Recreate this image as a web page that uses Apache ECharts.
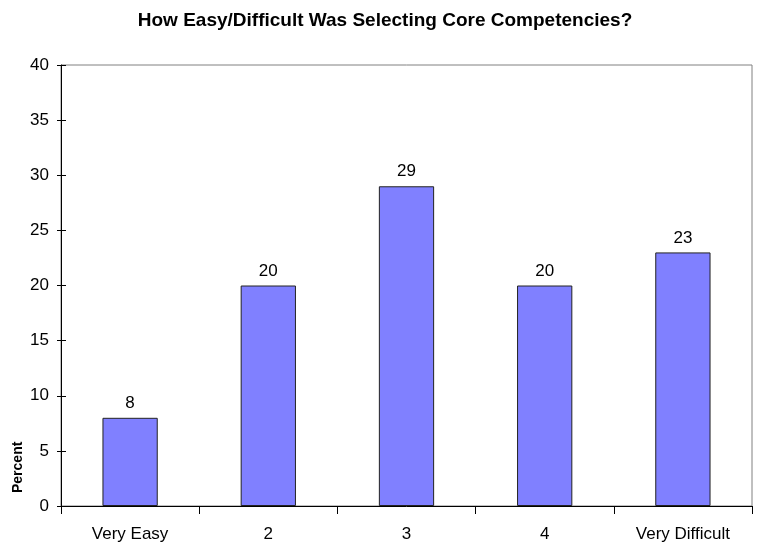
<!DOCTYPE html>
<html>
<head>
<meta charset="utf-8">
<script src="https://cdn.jsdelivr.net/npm/echarts@6/dist/echarts.min.js"></script>
<style>
  html, body { margin: 0; padding: 0; background: #fff; }
  #chart { width: 757px; height: 544px; }
</style>
</head>
<body>
<div id="chart"></div>
<script>
const categories = ['Very Easy', '2', '3', '4', 'Very Difficult']
const percentValues = [8, 20, 29, 20, 23]
const font = 'Arial, "Liberation Sans", sans-serif'

const chart = echarts.init(document.getElementById('chart'))

const option = {
  backgroundColor: '#fff',
  animation: false,
  title: {
    text: 'How Easy/Difficult Was Selecting Core Competencies?',
    left: 380,
    top: 6,
    textAlign: 'center',
    textStyle: { fontFamily: font, fontSize: 19, fontWeight: 'bold', color: '#000' }
  },
  grid: {
    left: 61, right: 5, top: 65, bottom: 38,
    show: true,
    borderColor: '#808080',
    borderWidth: 1
  },
  graphic: [{
    type: 'text',
    x: 11,
    y: 493,
    rotation: Math.PI / 2,
    style: {
      text: 'Percent',
      fontFamily: font,
      fontSize: 14,
      fontWeight: 'bold',
      fill: '#000'
    }
  }],
  xAxis: {
    type: 'category',
    data: categories,
    axisLine: { lineStyle: { color: '#000', width: 1 } },
    axisTick: { show: true, length: 8, lineStyle: { color: '#000' } },
    axisLabel: { fontFamily: font, fontSize: 17, color: '#000', margin: 20 }
  },
  yAxis: [
    {
      type: 'value',
      min: 0, max: 40, interval: 5,
      axisLine: { show: true, lineStyle: { color: '#000' } },
      axisTick: { show: true, length: 4, lineStyle: { color: '#000' } },
      axisLabel: { fontFamily: font, fontSize: 17, color: '#000', margin: 12 },
      splitLine: { show: false }
    },
    {
      type: 'value',
      position: 'left',
      min: 0, max: 40, interval: 5,
      axisLine: { show: false },
      axisTick: { show: true, inside: true, length: 5, lineStyle: { color: '#000' } },
      axisLabel: { show: false },
      splitLine: { show: false }
    }
  ],
  series: [{
    type: 'bar',
    data: percentValues,
    barWidth: '40%',
    itemStyle: { color: '#8080FF', borderColor: '#222', borderWidth: 1 },
    label: {
      show: true,
      position: 'top',
      distance: 6,
      fontFamily: font,
      fontSize: 17,
      color: '#000'
    }
  }]
}

chart.setOption(option)
</script>
</body>
</html>
